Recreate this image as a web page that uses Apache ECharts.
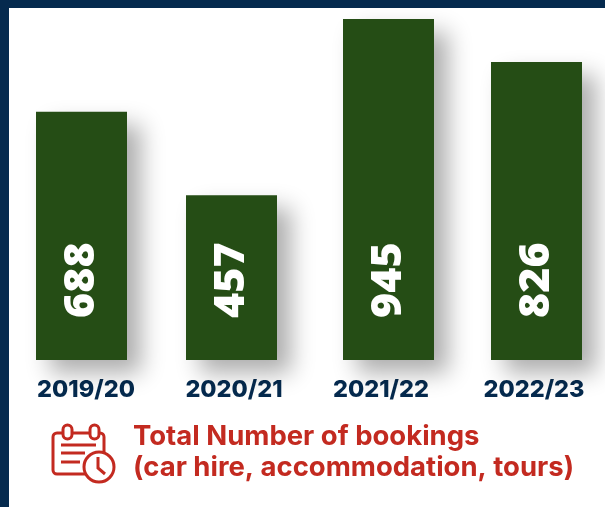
<!DOCTYPE html>
<html><head><meta charset="utf-8">
<style>html,body{margin:0;padding:0;background:#052a4e}#c{width:605px;height:507px}</style>
<script src="https://cdn.jsdelivr.net/npm/echarts@6/dist/echarts.min.js"></script>
</head><body><div id="c"></div>
<script>
const categories = ['2019/20','2020/21','2021/22','2022/23'];
const bookings = [688,457,945,826];
const titleLines = ['Total Number of bookings','(car hire, accommodation, tours)'];

const NAVY='#052a4e', GREEN='#254d15', RED='#c32a20';
const barLeft=[36,186,343,491];
const labelShift=[4.5,2.5,-7.5,-2.5];
const chart=echarts.init(document.getElementById('c'),null,{renderer:'canvas'});
const stroke={stroke:RED,lineWidth:3,fill:null};
const ring={stroke:RED,lineWidth:3,fill:'#fff'};
chart.setOption({
  animation:false,
  backgroundColor:NAVY,
  grid:categories.map((c,i)=>({left:barLeft[i],width:91,top:18,height:342})),
  xAxis:categories.map((c,i)=>({
    type:'category',gridIndex:i,data:[c],
    axisLine:{show:false},axisTick:{show:false},
    axisLabel:{color:NAVY,fontFamily:'Inter',fontWeight:800,fontSize:23.5,margin:18,
      interval:0,hideOverlap:false,
      padding:labelShift[i]>0?[0,0,0,labelShift[i]*2]:[0,-labelShift[i]*2,0,0]}
  })),
  yAxis:categories.map((c,i)=>({type:'value',gridIndex:i,min:0,max:948,show:false})),
  series:categories.map((c,i)=>({
    type:'bar',xAxisIndex:i,yAxisIndex:i,data:[bookings[i]],barWidth:'100%',z:3,
    itemStyle:{color:GREEN,shadowColor:'rgba(0,0,0,0.32)',shadowBlur:22,shadowOffsetX:14,shadowOffsetY:13},
    label:{show:true,position:'insideBottom',distance:42,rotate:90,align:'left',verticalAlign:'middle',
      color:'#fff',fontFamily:'Open Sans',fontWeight:800,fontSize:43}
  })),
  graphic:[
    {type:'rect',z:0,silent:true,shape:{x:9,y:8,width:596,height:499},style:{fill:'#fff'}},
    {type:'text',z:5,style:{x:133,y:437,text:titleLines[0],fill:RED,font:'700 27.5px Inter',textVerticalAlign:'middle'}},
    {type:'text',z:5,style:{x:133,y:468,text:titleLines[1],fill:RED,font:'700 27.5px Inter',textVerticalAlign:'middle'}},
    {type:'rect',z:5,shape:{x:53,y:433,width:51,height:41,r:4},style:stroke},
    {type:'rect',z:5,shape:{x:63,y:425,width:9,height:14,r:4.5},style:ring},
    {type:'rect',z:5,shape:{x:90,y:425,width:9,height:14,r:4.5},style:ring},
    {type:'line',z:5,shape:{x1:61,y1:445,x2:96,y2:445},style:stroke},
    {type:'line',z:5,shape:{x1:61,y1:453,x2:85,y2:453},style:stroke},
    {type:'line',z:5,shape:{x1:61,y1:462,x2:80,y2:462},style:stroke},
    {type:'circle',z:6,shape:{cx:99,cy:467,r:15},style:ring},
    {type:'polyline',z:7,shape:{points:[[98,457],[98,468],[105,474]]},style:stroke}
  ]
});
</script></body></html>
